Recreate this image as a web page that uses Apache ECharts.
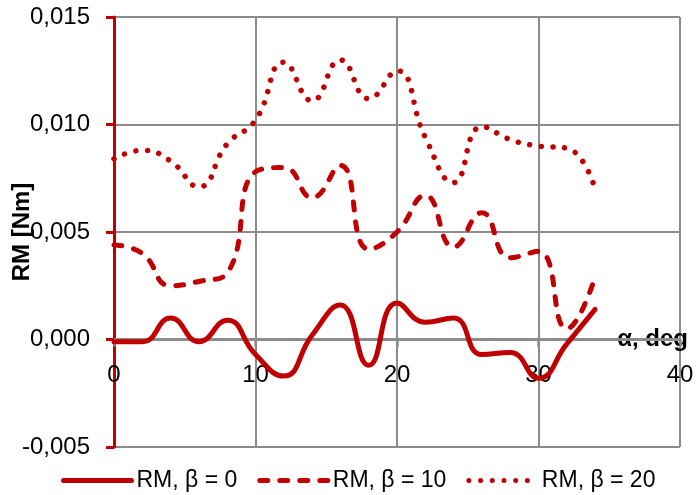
<!DOCTYPE html>
<html>
<head>
<meta charset="utf-8">
<script src="https://cdn.jsdelivr.net/npm/echarts@6/dist/echarts.min.js"></script>
<style>html,body{margin:0;padding:0;background:#fff}#c{width:698px;height:495px}</style>
</head>
<body>
<div id="c"></div>
<script>
const alpha = [0, 2, 4, 6, 8, 10, 12, 14, 16, 18, 20, 22, 24, 26, 28, 30, 32, 34];
const rmBeta0  = [-0.0001, -0.0001, 0.0010, -0.0001, 0.0009, -0.0007, -0.0017, 0.0002, 0.0016, -0.0012, 0.0017, 0.0008, 0.0010, -0.0007, -0.0006, -0.0018, -0.0002, 0.0014];
const rmBeta10 = [0.0044, 0.0040, 0.0025, 0.0027, 0.0031, 0.0078, 0.0080, 0.0066, 0.0081, 0.0042, 0.0050, 0.0067, 0.0043, 0.0059, 0.0038, 0.0041, 0.0005, 0.0029];
const rmBeta20 = [0.0084, 0.0088, 0.0083, 0.0071, 0.0091, 0.0102, 0.0129, 0.0111, 0.0130, 0.0112, 0.0125, 0.0094, 0.0073, 0.0099, 0.0093, 0.0090, 0.0089, 0.0070];
const seriesNames = ['RM, β = 0', 'RM, β = 10', 'RM, β = 20'];
const xTicks = [0, 10, 20, 30, 40];
const yTicks = [-0.005, 0.000, 0.005, 0.010, 0.015];

const RED = '#C00000';
const GRAY = '#8c8c8c';
const FONT = 'Liberation Sans';
const pairs = ys => alpha.map((a, i) => [a, ys[i]]);
const fmtY = v => v.toFixed(3).replace('.', ',');

const chart = echarts.init(document.getElementById('c'), null, {renderer: 'canvas'});
chart.setOption({
  animation: false,
  textStyle: {fontFamily: FONT},
  grid: {left: 114, right: 18, top: 17, bottom: 48, containLabel: false, outerBoundsMode: 'none'},
  legend: {
    left: 56, top: 464,
    itemWidth: 68, itemHeight: 14, itemGap: 20,
    itemStyle: {opacity: 0},
    lineStyle: {width: 5},
    textStyle: {fontFamily: FONT, fontSize: 23, color: '#000'},
    data: seriesNames
  },
  xAxis: {
    type: 'value',
    min: xTicks[0], max: xTicks[xTicks.length - 1], interval: 10,
    name: 'α, deg',
    nameLocation: 'end',
    nameGap: 8,
    nameMoveOverlap: false,
    nameTextStyle: {fontFamily: FONT, fontSize: 24, fontWeight: 'bold', color: '#000', align: 'right', verticalAlign: 'middle'},
    axisLine: {onZero: true, lineStyle: {color: GRAY, width: 3}},
    axisTick: {show: true, inside: false, length: 7, lineStyle: {color: GRAY, width: 2.5}},
    axisLabel: {fontFamily: FONT, fontSize: 24, color: '#000', margin: -84},
    splitLine: {show: true, lineStyle: {color: GRAY, width: 2}}
  },
  yAxis: {
    type: 'value',
    min: yTicks[0], max: yTicks[yTicks.length - 1], interval: 0.005,
    name: 'RM [Nm]',
    nameLocation: 'middle',
    nameGap: 80,
    nameRotate: 90,
    nameMoveOverlap: false,
    nameTextStyle: {fontFamily: FONT, fontSize: 24, fontWeight: 'bold', color: '#000'},
    axisLine: {show: true, lineStyle: {color: RED, width: 3}},
    axisTick: {show: true, inside: false, length: 8, lineStyle: {color: RED, width: 3}},
    axisLabel: {fontFamily: FONT, fontSize: 24, color: '#000', margin: 24, formatter: fmtY},
    splitLine: {show: true, lineStyle: {color: GRAY, width: 2}}
  },
  series: [
    {name: seriesNames[0], type: 'line', data: pairs(rmBeta0), smooth: 0.5, symbol: 'none',
     lineStyle: {color: RED, width: 5, type: 'solid', cap: 'round'}, itemStyle: {color: RED}},
    {name: seriesNames[1], type: 'line', data: pairs(rmBeta10), smooth: 0.5, symbol: 'none',
     lineStyle: {color: RED, width: 5, type: [8, 12], cap: 'round'}, itemStyle: {color: RED}},
    {name: seriesNames[2], type: 'line', data: pairs(rmBeta20), smooth: 0.5, symbol: 'none',
     lineStyle: {color: RED, width: 5.5, type: [0.01, 11.7], cap: 'round'}, itemStyle: {color: RED}}
  ]
});
</script>
</body>
</html>
